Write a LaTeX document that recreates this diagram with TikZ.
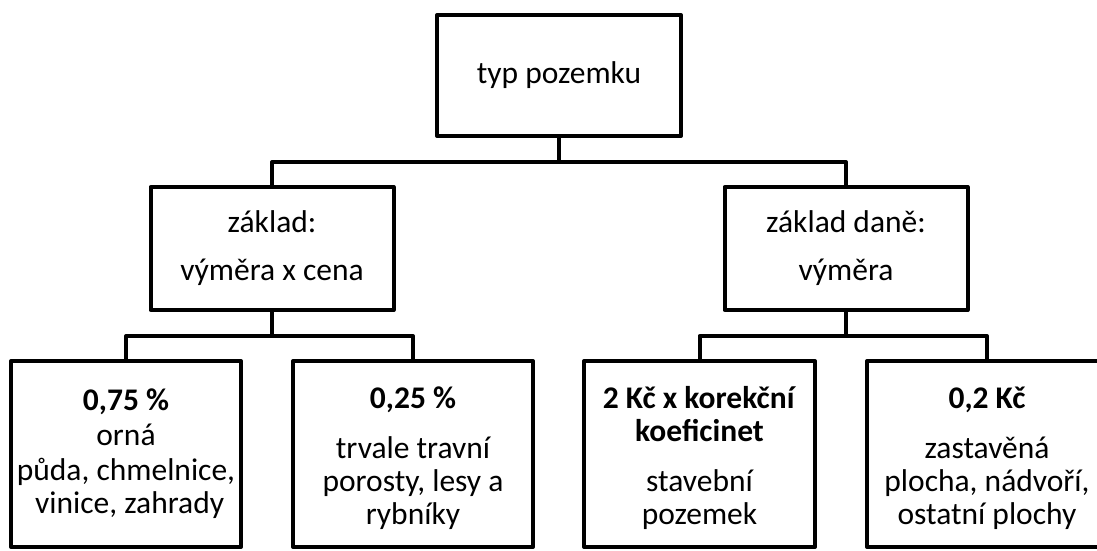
\documentclass[tikz,border=0pt]{standalone}
\usepackage{fontspec}
\setmainfont{Carlito}
\usepackage{tikz}
\newcommand{\blockfont}{\fontsize{31.5}{33}\selectfont}
\newcommand{\blockline}{4pt}
\newcommand{\ratehead}[1]{\rule{0pt}{30pt}\textbf{#1}}
\tikzstyle{block}=[draw, line width=\blockline, line join=round, inner sep=0, outer sep=0,
                   align=center, font=\blockfont]
\tikzstyle{rootblock}=[block, minimum width=244pt, minimum height=121pt]
\tikzstyle{baseblock}=[block, minimum width=243pt, minimum height=123pt]
\tikzstyle{rateblock}=[block, minimum height=186pt]
\tikzstyle{link}=[line width=\blockline, line join=round]
\tikzstyle{taxtree}=[x=1pt, y=-1pt,
                     % Page is 1097 x 550, the last box runs past the right edge.
                     execute at begin picture={\clip (0, 0) rectangle (1097, 550);}]

\begin{document}
\begin{tikzpicture}[taxtree]
        \node[rootblock]                              (typ) at (559, 75.5) {typ pozemku};
        \node[baseblock]                              (zakladA) at (272, 248.5) {základ:\\[15pt]výměra x cena};
        \node[baseblock]                              (zakladB) at (846, 248.5) {základ daně:\\[15pt]výměra};
        \node[rateblock, minimum width=230pt]         (orna) at (126, 454) {\textbf{0,75 \%}\\[2pt]orná\\[2pt]půda, chmelnice,\\\ vinice, zahrady};
        \node[rateblock, minimum width=240pt]         (travni) at (413, 454) {\ratehead{0,25 \%}\\[17pt]trvale travní\\porosty, lesy a\\rybníky};
        \node[rateblock, minimum width=231pt]         (stavebni) at (699.5, 454) {\ratehead{2 Kč x korekční}\\\textbf{koeficinet}\\[17pt]stavební\\pozemek};
        \node[rateblock, minimum width=240pt]         (zastavena) at (987, 454) {\ratehead{0,2 Kč}\\[17pt]zastavěná\\plocha, nádvoří,\\ostatní plochy};
        \draw[link] (typ.south) -- ++(0, 26) -| (zakladA.north);
        \draw[link] (typ.south) -- ++(0, 26) -| (zakladB.north);
        \draw[link] (zakladA.south) -- ++(0, 26) -| (orna.north);
        \draw[link] (zakladA.south) -- ++(0, 26) -| (travni.north);
        \draw[link] (zakladB.south) -- ++(0, 26) -| (stavebni.north);
        \draw[link] (zakladB.south) -- ++(0, 26) -| (zastavena.north);
    \end{tikzpicture}
\end{document}
